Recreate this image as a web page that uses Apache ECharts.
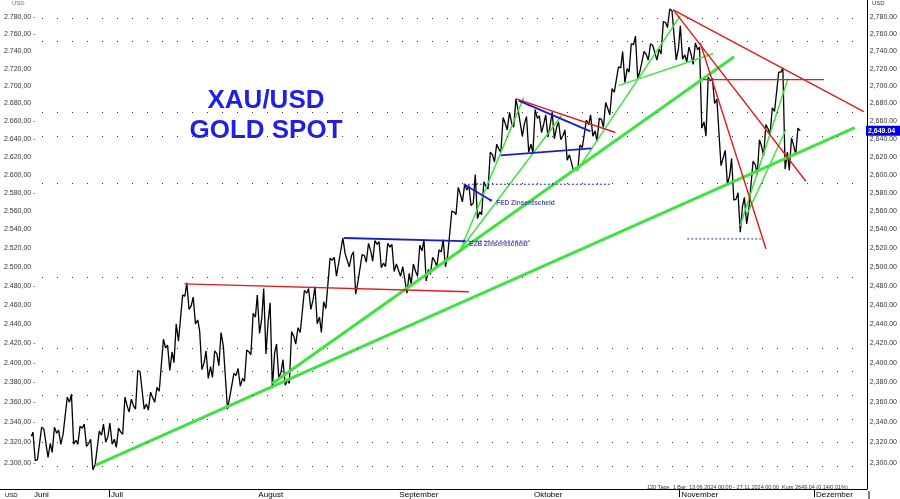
<!DOCTYPE html>
<html><head><meta charset="utf-8">
<script src="https://cdn.jsdelivr.net/npm/echarts@6/dist/echarts.min.js"></script>
<style>html,body{margin:0;padding:0;background:#fff}#c{width:900px;height:499px}</style>
</head><body><div id="c"></div><script>
// ---- tick labels / categories ----
const monthNames = ['Juni','Juli','August','September','Oktober','November','Dezember'];
const monthStarts = [0,12,35,57,78,101,122];   // trading-day index of month start
const monthTicks = [12,101,122];
const yTicks = [2300,2320,2340,2360,2380,2400,2420,2440,2460,2480,2500,2520,2540,2560,2580,2600,2620,2640,2660,2680,2700,2720,2740,2760,2780];
const gridRows = [2300,2320,2340,2360,2380,2400,2420,2480,2580,2640,2660,2760,2780];

// ---- daily prices 13.06.2024 - 27.11.2024 (trading days) ----
const firstOpen = 2326;
const high = [2330,2335,2334,2335,2332,2365,2368,2336,2338,2323,2331,2338,
 2339,2334,2365,2363,2392,2393,2370,2375,2424,2418,2440,2470,2483,2468,2433,2412,2412,2431,2419,2389,2394,2413,2451,
 2470,2477,2462,2419,2403,2432,2436,2475,2477,2479,2463,2509,2510,2531,2516,2516,2513,2525,2528,2527,2525,2524,
 2505,2502,2503,2523,2529,2510,2518,2529,2560,2586,2589,2588,2600,2592,2625,2634,2664,2670,2685,2674,2665,
 2673,2666,2667,2670,2659,2650,2623,2633,2661,2667,2663,2681,2697,2722,2740,2749,2758,2740,2749,2749,2775,2790,2789,
 2770,2745,2750,2745,2710,2709,2686,2627,2618,2580,2575,2615,2639,2656,2675,2716,2721,2641,2652];
const low = [2302,2303,2305,2310,2318,2328,2318,2318,2316,2293,2297,2320,
 2318,2315,2328,2350,2353,2353,2352,2360,2369,2392,2400,2420,2455,2440,2393,2384,2385,2397,2353,2364,2376,2381,2408,
 2430,2409,2374,2385,2377,2379,2419,2430,2455,2440,2431,2455,2490,2502,2500,2471,2484,2505,2506,2499,2500,2495,
 2490,2472,2481,2490,2485,2492,2500,2500,2512,2556,2570,2566,2552,2556,2584,2614,2625,2650,2653,2643,2625,
 2624,2647,2642,2640,2639,2616,2604,2605,2628,2643,2637,2653,2667,2692,2704,2716,2709,2717,2730,2730,2737,2768,2730,
 2731,2728,2725,2652,2643,2680,2610,2589,2572,2537,2546,2561,2600,2621,2645,2670,2606,2605,2622];
const close = [2303,2333,2319,2329,2328,2360,2322,2334,2319,2298,2327,2326,
 2323,2330,2356,2356,2391,2358,2364,2371,2415,2411,2422,2469,2459,2444,2400,2396,2409,2417,2365,2387,2384,2411,2447,
 2446,2443,2410,2390,2382,2427,2431,2472,2465,2447,2456,2507,2504,2514,2512,2484,2512,2517,2524,2504,2521,2503,
 2500,2493,2495,2517,2497,2506,2516,2512,2559,2578,2583,2569,2559,2587,2622,2628,2657,2657,2672,2658,2634,
 2663,2657,2656,2653,2644,2622,2608,2630,2656,2649,2662,2674,2693,2721,2720,2748,2717,2736,2747,2743,2774,2788,2743,
 2736,2736,2742,2659,2706,2685,2619,2599,2573,2565,2563,2611,2631,2651,2671,2716,2625,2632,2649];
const lastPrice = 2649.04;

// ---- drawn trend lines [dayIndex1, price1, dayIndex2, price2] ----
const greenThick = [[9.94,2297.5,128.37,2652.7],[37.49,2378.8,109.54,2733.8]];
const greenThin = [[66.89,2519.0,76.70,2686.7],[66.89,2519.0,82.62,2666.3],[84.95,2603.7,101.13,2781.8],
  [91.49,2700.4,106.27,2737.3],[110.47,2543.7,117.94,2708.4],[111.72,2558.8,117.63,2650.5]];
const redLines = [[23.79,2481.9,68.14,2473.5],[75.46,2685.6,91.02,2647.1],[100.05,2788.9,129.77,2670.8],
  [100.05,2788.9,120.74,2592.7],[104.25,2750.1,114.52,2519.0],[104.71,2707.3,123.55,2707.3]];
const blueLines = [[48.69,2530.8,67.37,2527.5],[67.37,2589.4,71.57,2571.9],[73.12,2621.4,87.28,2629.2],[75.93,2683.3,87.13,2648.3]];
const blueDotted = [[67.37,2527.5,77.79,2527.5],[67.37,2589.4,90.40,2589.4],[102.23,2529.8,114.05,2529.8]];
const noteX = [71.57, 67.37];
const noteP = [2571.9, 2527.5];
const noteText = ['FED Zinsentscheid','EZB Zinsentscheid'];

// ---- scale set-up (log price axis) ----
const L = Math.log;
const k = 447 / L(2780/2300);
const yMax = L(2780) + 17.5/k;
const yMin = L(2780) - (491-17.5)/k;
const xMin = -32.1/6.426, xMax = (869-32.1)/6.426;

function fmt(v, th, dec){
  const s = v.toFixed(2).split('.');
  return s[0].replace(/\B(?=(\d{3})+(?!\d))/g, th) + dec + s[1];
}
const toP = v => Math.round(Math.exp(v)*100)/100;

const path = [[-0.1, L(firstOpen)]];
let prev = firstOpen;
for (let d = 0; d < close.length; d++) {
  const up = close[d] >= prev;
  const a = up ? low[d] : high[d], b = up ? high[d] : low[d];
  path.push([d+0.15, L(a)], [d+0.5, L(b)], [d+0.85, L(close[d])]);
  prev = close[d];
}

const series = [{
  type:'line', xAxisIndex:0, yAxisIndex:0, data:path, showSymbol:false, z:2,
  lineStyle:{color:'#000', width:1.3}, silent:true
}];
function addLines(arr, style, z){
  arr.forEach(s => series.push({type:'line', xAxisIndex:0, yAxisIndex:0, showSymbol:false, z:z, silent:true,
    data:[[s[0], L(s[1])],[s[2], L(s[3])]], lineStyle:style}));
}
addLines(greenThick, {color:'#3fe33f', width:3}, 4);
addLines(greenThin, {color:'#3fe33f', width:1.5}, 4);
addLines(redLines, {color:'#e01b1b', width:1.4}, 5);
addLines(blueLines, {color:'#1c1cc8', width:1.8}, 5);
addLines(blueDotted, {color:'#2a2aa0', width:1, type:[2,2]}, 5);
series.push({type:'scatter', xAxisIndex:0, yAxisIndex:0, symbolSize:3, z:6, silent:true,
  itemStyle:{color:'#1c1cc8'},
  data: noteX.map((x,i)=>({value:[x, L(noteP[i])], label:{formatter:noteText[i]}})),
  label:{show:true, position:'right', distance:4, offset:[0,3], fontSize:6.5, fontWeight:'bold', color:'#2a2a9a'}});
// dotted grid rows (drawn in an inner grid so they start right of the labels)
series.push({type:'line', xAxisIndex:1, yAxisIndex:2, data:[], silent:true, z:1,
  markLine:{symbol:'none', silent:true, label:{show:false}, animation:false,
    lineStyle:{color:'#333', width:1, type:[1,14]},
    data: gridRows.map(v=>({yAxis:L(v)}))}});

const chart = echarts.init(document.getElementById('c'), null, {renderer:'canvas'});
chart.setOption({
  animation:false,
  textStyle:{fontFamily:'Liberation Sans'},
  grid:[{left:0, right:31, top:0, height:491},{left:42, right:38, top:0, height:491}],
  xAxis:[
    {gridIndex:0, type:'value', min:xMin, max:xMax,
     axisLine:{show:true, lineStyle:{color:'#000', width:1}},
     axisTick:{show:true, customValues:monthTicks, length:8, lineStyle:{color:'#000'}},
     axisLabel:{customValues:monthStarts, formatter:v=>monthNames[monthStarts.indexOf(Math.round(v))],
       align:'left', margin:2, fontSize:8, color:'#000', padding:[0,0,0,2], hideOverlap:false},
     splitLine:{show:false}},
    {gridIndex:1, type:'value', min:0, max:1, show:false}
  ],
  yAxis:[
    {gridIndex:0, type:'value', min:yMin, max:yMax, position:'left',
     axisLine:{show:false}, axisTick:{show:false}, splitLine:{show:false},
     axisLabel:{inside:true, customValues:yTicks.map(L), margin:4, fontSize:7, color:'#333',
       formatter:v=>{const p=toP(v); return fmt(p,'.',',') + (gridRows.indexOf(Math.round(p))>=0?' -':'');}}},
    {gridIndex:0, type:'value', min:yMin, max:yMax, position:'right',
     axisLine:{show:true, lineStyle:{color:'#000', width:1}}, axisTick:{show:false}, splitLine:{show:false},
     axisLabel:{customValues:yTicks.map(L), margin:3, fontSize:7, color:'#333',
       formatter:v=>fmt(toP(v),',','.')}},
    {gridIndex:1, type:'value', min:yMin, max:yMax, show:false, splitLine:{show:false}}
  ],
  series: series
});

const py = chart.convertToPixel({yAxisIndex:1}, L(lastPrice));
chart.setOption({graphic:[
  {type:'text', style:{text:'XAU/USD', x:266, y:101, fill:'#1f1fe6', font:'bold 26px "Liberation Sans"', align:'center', verticalAlign:'middle'}},
  {type:'text', style:{text:'GOLD SPOT', x:266, y:131, fill:'#1f1fe6', font:'bold 26px "Liberation Sans"', align:'center', verticalAlign:'middle'}},
  {type:'rect', shape:{x:866, y:py-5, width:34, height:10}, style:{fill:'#0000e0'}, z:10},
  {type:'text', z:11, style:{text:fmt(lastPrice,',','.'), x:868, y:py, fill:'#fff', font:'bold 7px "Liberation Sans"', verticalAlign:'middle'}},
  {type:'line', shape:{x1:869, y1:491, x2:869, y2:499}, style:{stroke:'#000', lineWidth:1}},
  {type:'text', style:{text:'120 Tage, 1 Bar: 13.06.2024 00:00 - 27.11.2024 00:00  Kurs 2649,04 (0,14/0,01%)', x:647, y:487, fill:'#333', font:'5.5px "Liberation Sans"', verticalAlign:'middle'}},
  {type:'text', style:{text:'USD', x:12, y:3, fill:'#5a6bd0', font:'6px "Liberation Sans"', verticalAlign:'middle'}},
  {type:'text', style:{text:'USD', x:872, y:3, fill:'#333', font:'6px "Liberation Sans"', verticalAlign:'middle'}},
  {type:'text', style:{text:'USD', x:5, y:495, fill:'#000', font:'6px "Liberation Sans"', verticalAlign:'middle'}}
]});
</script></body></html>
